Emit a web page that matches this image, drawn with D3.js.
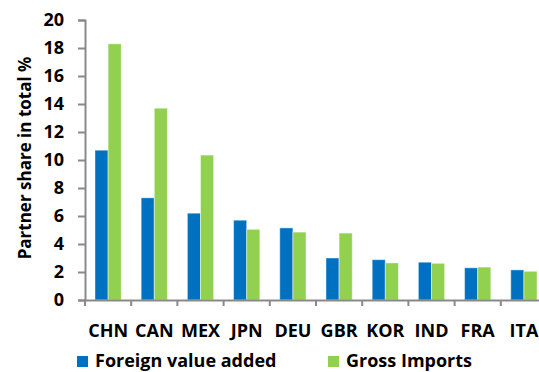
<!DOCTYPE html>
<html>
<head>
<meta charset="utf-8">
<script src="https://cdn.jsdelivr.net/npm/d3@7"></script>
<style>
  body { margin: 0; background: #fff; }
  text { font-family: "Open Sans", sans-serif; font-weight: bold; fill: #000; }
</style>
</head>
<body>
<svg id="chart" width="539" height="372"></svg>
<script>
const countries = ["CHN", "CAN", "MEX", "JPN", "DEU", "GBR", "KOR", "IND", "FRA", "ITA"];
const seriesNames = ["Foreign value added", "Gross Imports"];
const foreignValueAdded = [10.7, 7.3, 6.2, 5.7, 5.15, 3.0, 2.88, 2.7, 2.3, 2.15];
const grossImports = [18.3, 13.7, 10.35, 5.05, 4.85, 4.78, 2.65, 2.62, 2.35, 2.05];
const yTicks = [0, 2, 4, 6, 8, 10, 12, 14, 16, 18, 20];
const colors = ["#0070C0", "#92D050"];

const svg = d3.select("#chart");
const axisColor = "#898989";

const x0 = d3.scaleBand().domain(countries).range([85, 547]).padding(0);
const x1 = d3.scaleBand().domain(seriesNames).range([0, x0.bandwidth()]).paddingInner(0).paddingOuter(0.76);
const y = d3.scaleLinear().domain([0, 20]).range([300, 20]);

const rows = countries.map((c, i) => ({
  country: c,
  values: [foreignValueAdded[i], grossImports[i]]
}));

// bars
const groups = svg.append("g").selectAll("g.group")
  .data(rows)
  .enter()
  .append("g")
  .attr("transform", (d) => `translate(${x0(d.country)},0)`);

groups.selectAll("rect")
  .data((d) => d.values.map((v, k) => ({ key: seriesNames[k], value: v, k: k })))
  .enter()
  .append("rect")
  .attr("x", (d) => x1(d.key))
  .attr("y", (d) => y(d.value))
  .attr("width", x1.bandwidth())
  .attr("height", (d) => y(0) - y(d.value))
  .style("fill", (d) => colors[d.k])
  .style("stroke", "rgba(255,255,255,0.45)")
  .style("stroke-width", 1);

// y axis
const yAxis = svg.append("g")
  .attr("transform", "translate(85,0)")
  .call(d3.axisLeft(y).tickValues(yTicks).tickSize(7).tickPadding(14));
yAxis.selectAll("text").style("font-size", "18px");

// x axis
const xAxis = svg.append("g")
  .attr("transform", "translate(0,300)")
  .call(d3.axisBottom(x0).tickSize(0).tickPadding(24));
xAxis.selectAll("text").style("font-size", "18px");
xAxis.selectAll("line.sep")
  .data(countries)
  .enter()
  .append("line")
  .attr("class", "sep")
  .attr("x1", (d) => x0(d))
  .attr("x2", (d) => x0(d))
  .attr("y1", 0)
  .attr("y2", 6);

svg.selectAll(".domain, .tick line, line.sep")
  .style("stroke", axisColor)
  .style("stroke-width", 2);

// y axis title
svg.append("text")
  .attr("transform", "translate(31,158) rotate(-90)")
  .attr("text-anchor", "middle")
  .style("font-size", "17px")
  .text("Partner share in total %");

// legend
const legendX = [77, 328];
const legend = svg.append("g").selectAll("g.legend")
  .data(seriesNames)
  .enter()
  .append("g")
  .attr("transform", (d, i) => `translate(${legendX[i]},355)`);
legend.append("rect")
  .attr("y", 1)
  .attr("width", 11)
  .attr("height", 11)
  .style("fill", (d, i) => colors[i]);
legend.append("text")
  .attr("x", 18)
  .attr("y", 12)
  .style("font-size", "18px")
  .text((d) => d);
</script>
</body>
</html>
